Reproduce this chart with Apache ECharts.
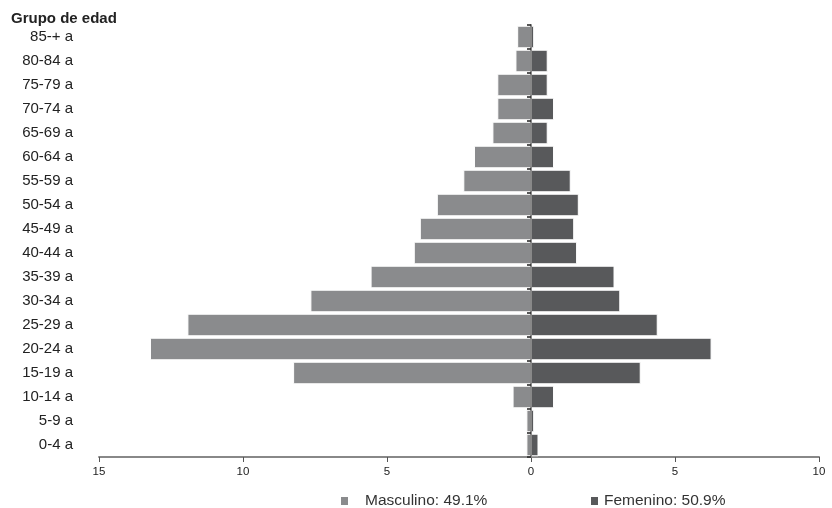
<!DOCTYPE html>
<html>
<head>
<meta charset="utf-8">
<script src="https://cdn.jsdelivr.net/npm/echarts@6/dist/echarts.min.js"></script>
<style>html,body{margin:0;padding:0;background:#fff;}#c{width:832px;height:508px;}</style>
</head>
<body>
<div id="c"></div>
<script>
var categories = ['0-4 a','5-9 a','10-14 a','15-19 a','20-24 a','25-29 a','30-34 a','35-39 a','40-44 a','45-49 a','50-54 a','55-59 a','60-64 a','65-69 a','70-74 a','75-79 a','80-84 a','85-+ a'];
var masculino = [0.16,0.16,0.64,8.26,13.23,11.93,7.66,5.57,4.07,3.86,3.27,2.35,1.98,1.34,1.17,1.17,0.54,0.48];
var femenino = [0.26,0.11,0.80,3.81,6.27,4.40,3.10,2.90,1.60,1.50,1.66,1.38,0.80,0.58,0.80,0.58,0.58,0.11];
var xTicks = [-15,-10,-5,0,5,10];
var nameM = 'Masculino: 49.1%';
var nameF = 'Femenino: 50.9%';

var chart = echarts.init(document.getElementById('c'), null, {renderer:'canvas'});
var FONT = '"Liberation Sans", Arial, sans-serif';
chart.setOption({
  animation: false,
  backgroundColor: '#fff',
  title: {
    text: 'Grupo de edad', left: 6, top: 6,
    textStyle: {fontFamily: FONT, fontSize: 15, fontWeight: 'bold', color: '#222'}
  },
  legend: [
    {data: [nameM], left: 334, top: 488, itemWidth: 9, itemHeight: 10, icon: 'rect',
     textStyle: {fontFamily: FONT, fontSize: 15.5, color: '#333', padding: [0,0,0,11]}},
    {data: [nameF], left: 584, top: 488, itemWidth: 9, itemHeight: 10, icon: 'rect', itemGap: 0,
     textStyle: {fontFamily: FONT, fontSize: 15.5, color: '#333', padding: [0,0,0,0]}}
  ],
  grid: {left: 99, right: 13, top: 25, bottom: 51, containLabel: false},
  xAxis: {
    type: 'value', min: xTicks[0], max: xTicks[xTicks.length-1], interval: 5,
    axisLine: {show: true, onZero: false, lineStyle: {color: '#888', width: 2}},
    axisTick: {show: true, length: 5, lineStyle: {color: '#555'}},
    splitLine: {show: false},
    axisLabel: {margin: 9, fontFamily: FONT, fontSize: 11.5, color: '#222',
      formatter: function(v){ return String(Math.abs(v)); }}
  },
  yAxis: [
    {type: 'category', data: categories,
     axisLine: {show: false, onZero: false},
     axisTick: {show: false},
     axisLabel: {margin: 26, fontFamily: FONT, fontSize: 15, color: '#222', align: 'right'}},
    {type: 'category', data: categories, position: 'left', z: 10,
     axisLine: {show: true, onZero: true, lineStyle: {color: '#888', width: 2}},
     axisTick: {show: true, length: 4, lineStyle: {color: '#222', width: 1.5}},
     axisLabel: {show: false}}
  ],
  series: [
    {name: nameM, type: 'bar', data: masculino.map(function(v){return -v;}),
     barCategoryGap: '6%', barGap: '-100%',
     itemStyle: {color: '#8a8b8d', borderColor: '#fff', borderWidth: 1}},
    {name: nameF, type: 'bar', data: femenino,
     barCategoryGap: '6%', barGap: '-100%',
     itemStyle: {color: '#58595b', borderColor: '#fff', borderWidth: 1}}
  ]
});
</script>
</body>
</html>
